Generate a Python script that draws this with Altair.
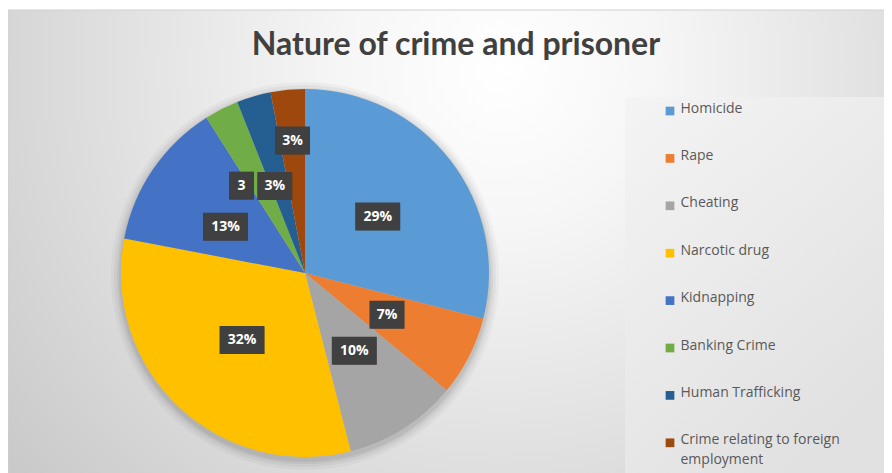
import altair as alt
import pandas as pd
import numpy as np

# ---- data ----
categories = ["Homicide", "Rape", "Cheating", "Narcotic drug", "Kidnapping",
              "Banking Crime", "Human Trafficking", "Crime relating to foreign employment"]
shares = [29, 7, 10, 32, 13, 3, 3, 3]
labels = ["29%", "7%", "10%", "32%", "13%", "3", "3%", "3%"]
legend_labels = ["Homicide", "Rape", "Cheating", "Narcotic drug", "Kidnapping",
                 "Banking Crime", "Human Trafficking", "Crime relating to foreign\nemployment"]
colors = ["#5B9BD5", "#ED7D31", "#A5A5A5", "#FFC000", "#4472C4",
          "#70AD47", "#255E91", "#9E480E"]

# ---- layout ----
W, H = 876, 465
CX, CY, R = 297, 265, 184
LABEL_R = 92
label_r_adj = {"Banking Crime": 108, "Crime relating to foreign employment": 133}
label_ang_adj = {"Kidnapping": -4, "Banking Crime": -9, "Human Trafficking": -3}
LEG_X, LEG_Y0, LEG_STEP = 662, 103, 47.4

df = pd.DataFrame({"category": categories, "share": shares, "label": labels,
                   "legend": legend_labels})
df["order"] = range(len(df))
total = float(sum(shares))
cum = np.cumsum(shares)
mid = (cum - np.array(shares) / 2.0) / total * 360.0
ang = np.deg2rad(mid + np.array([label_ang_adj.get(c, 0) for c in categories]))
rad = np.array([label_r_adj.get(c, LABEL_R) for c in categories], dtype=float)
df["lx"] = CX + rad * np.sin(ang)
df["ly"] = CY - rad * np.cos(ang)
df["bw"] = df["label"].str.len() * 10 + 15
df["x1"] = df["lx"] - df["bw"] / 2
df["x2"] = df["lx"] + df["bw"] / 2
df["y1"] = df["ly"] - 14
df["y2"] = df["ly"] + 14
df["gx"] = LEG_X
df["gy"] = LEG_Y0 + LEG_STEP * df["order"]
df["tx"] = LEG_X + 10.5
df["ty"] = df["gy"] - 9.5

xs = alt.Scale(domain=[0, W], nice=False, zero=False)
ys = alt.Scale(domain=[0, H], nice=False, zero=False, reverse=True)

base = alt.Chart(df)
one = pd.DataFrame({"a": [0]})

bg = alt.Chart(one).mark_rect(
    color={"gradient": "radial", "x1": 0.56, "y1": 0.3, "r1": 0.0,
           "x2": 0.56, "y2": 0.3, "r2": 0.72,
           "stops": [{"offset": 0, "color": "#ffffff"},
                     {"offset": 0.25, "color": "#f6f6f6"},
                     {"offset": 1, "color": "#c9c9c9"}]},
    stroke="#d0d0d0", strokeWidth=1
).encode(x=alt.value(0), x2=alt.value(W + 4), y=alt.value(2), y2=alt.value(H + 4))

legend_box = alt.Chart(one).mark_rect(
    color={"gradient": "linear", "x1": 0, "y1": 0, "x2": 0.6, "y2": 1,
           "stops": [{"offset": 0, "color": "#f4f4f4"},
                     {"offset": 1, "color": "#e1e1e1"}]}
).encode(x=alt.value(617), x2=alt.value(W + 4), y=alt.value(89), y2=alt.value(H + 4))

shadow_layers = []
for dr, op in [(10, 0.03), (7, 0.04), (4, 0.05), (2, 0.06)]:
    shadow_layers.append(
        alt.Chart(one).mark_arc(
            radius=R + dr, theta=0, theta2=2 * np.pi, color="#000000", opacity=op
        ).encode(x=alt.value(CX), y=alt.value(CY + 3))
    )

pie = base.mark_arc(radius=R).encode(
    theta=alt.Theta("share:Q", stack=True),
    order=alt.Order("order:Q"),
    color=alt.Color("category:N", sort=categories,
                    scale=alt.Scale(domain=categories, range=colors), legend=None),
    x=alt.value(CX), y=alt.value(CY),
)

box_shadow = base.mark_rect(color="#000000", opacity=0.22).encode(
    x=alt.X("x1:Q", scale=xs, axis=None), x2=alt.X2("x2:Q"),
    y=alt.Y("y1:Q", scale=ys, axis=None), y2=alt.Y2("y2:Q"),
    xOffset=alt.value(2), yOffset=alt.value(2),
)
box = base.mark_rect(color="#404040").encode(
    x=alt.X("x1:Q", scale=xs, axis=None), x2=alt.X2("x2:Q"),
    y=alt.Y("y1:Q", scale=ys, axis=None), y2=alt.Y2("y2:Q"),
)
text = base.mark_text(font="Open Sans", fontSize=14, fontWeight="bold",
                      color="#ffffff", baseline="middle", align="center").encode(
    x=alt.X("lx:Q", scale=xs, axis=None),
    y=alt.Y("ly:Q", scale=ys, axis=None),
    text="label:N",
)

leg_sym = base.mark_square(size=76, opacity=1).encode(
    x=alt.X("gx:Q", scale=xs, axis=None),
    y=alt.Y("gy:Q", scale=ys, axis=None),
    color=alt.Color("category:N", sort=categories,
                    scale=alt.Scale(domain=categories, range=colors), legend=None),
)
leg_text = base.mark_text(font="Open Sans", fontSize=14, color="#595959",
                          align="left", baseline="top", lineBreak="\n",
                          lineHeight=20).encode(
    x=alt.X("tx:Q", scale=xs, axis=None),
    y=alt.Y("ty:Q", scale=ys, axis=None),
    text="legend:N",
)

title = alt.Chart(pd.DataFrame({"t": ["Nature of crime and prisoner"]})).mark_text(
    font="Lato", fontSize=32, fontWeight="bold", color="#404040",
    align="center", baseline="middle"
).encode(x=alt.value(448), y=alt.value(37), text="t:N")

chart = alt.layer(bg, legend_box, *shadow_layers, pie, box_shadow, box, text,
                  leg_sym, leg_text, title).properties(
    width=W, height=H, padding=0, autosize=alt.AutoSizeParams(type="none"),
    background="#ffffff"
).configure_view(stroke=None)

chart.save("out.html", embed_options={"renderer": "svg", "actions": False})
